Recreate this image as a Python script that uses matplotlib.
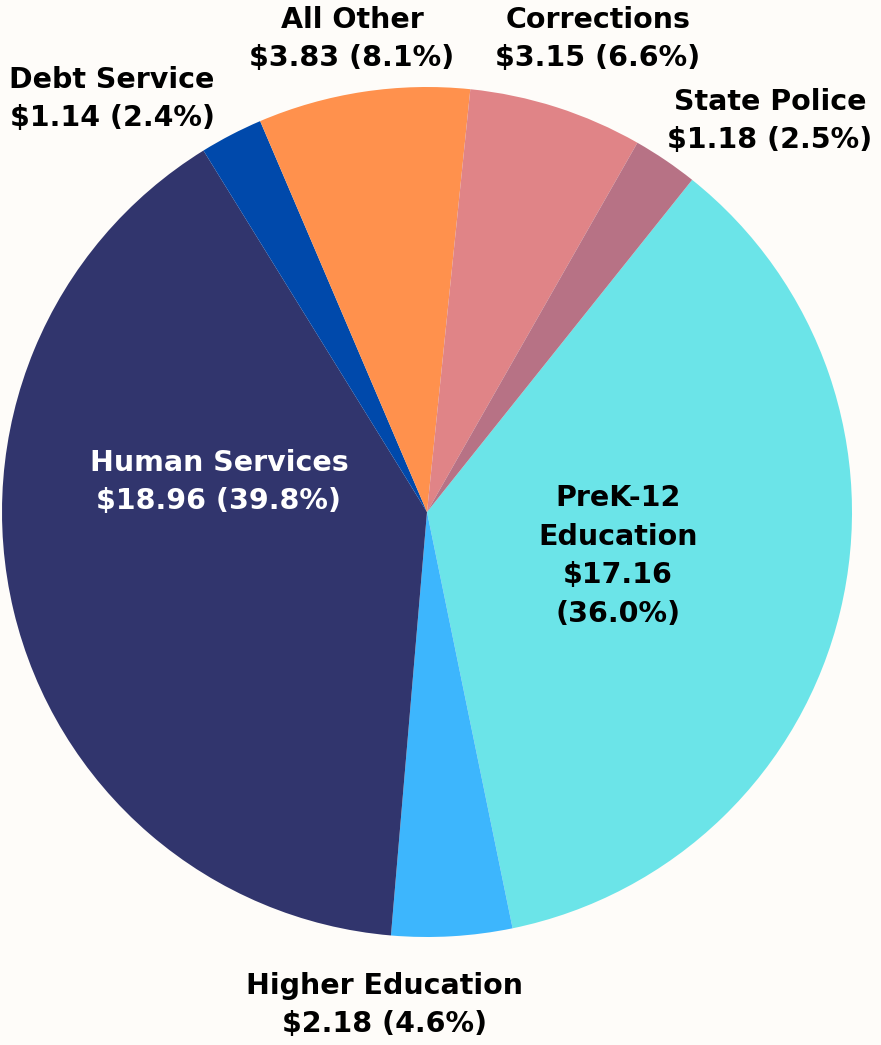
import matplotlib
matplotlib.use("Agg")
import matplotlib.pyplot as plt

# budget shares, in billions, clockwise from PreK-12
categories = ["PreK-12\nEducation", "Higher Education", "Human Services", "Debt Service",
              "All Other", "Corrections", "State Police"]
values = [17.16, 2.18, 18.96, 1.14, 3.83, 3.15, 1.18]
colors = ["#6BE4E8", "#3DB6FD", "#31356D", "#0049AB", "#FF914D", "#E08487", "#B77285"]
label_text = ["PreK-12\nEducation\n$17.16\n(36.0%)",
              "Higher Education\n$2.18 (4.6%)",
              "Human Services\n$18.96 (39.8%)",
              "Debt Service\n$1.14 (2.4%)",
              "All Other\n$3.83 (8.1%)",
              "Corrections\n$3.15 (6.6%)",
              "State Police\n$1.18 (2.5%)"]
# label centres in pixel units (from top-left)
label_pos = [(618, 556), (385, 1005), (219, 482), (112, 99),
             (352, 39), (598, 39), (770, 121)]
label_color = ["black", "black", "white", "black", "black", "black", "black"]

W, H = 881, 1045
bg = "#FEFCF9"

fig = plt.figure(figsize=(W / 100, H / 100), dpi=100, facecolor=bg)
ax = fig.add_axes([0, 0, 1, 1])
ax.set_facecolor(bg)

ax.pie(values, colors=colors, startangle=51.4, counterclock=False,
       center=(427, H - 512), radius=425, frame=True,
       wedgeprops=dict(linewidth=0))
ax.set_xlim(0, W)
ax.set_ylim(0, H)
ax.set_aspect("equal")
ax.axis("off")

for txt, (x, y), c in zip(label_text, label_pos, label_color):
    ax.text(x, H - y, txt, ha="center", va="center", color=c,
            fontsize=20.5, fontweight="bold", family="DejaVu Sans",
            linespacing=1.48)

fig.savefig("out.png", dpi=100, facecolor=bg)
